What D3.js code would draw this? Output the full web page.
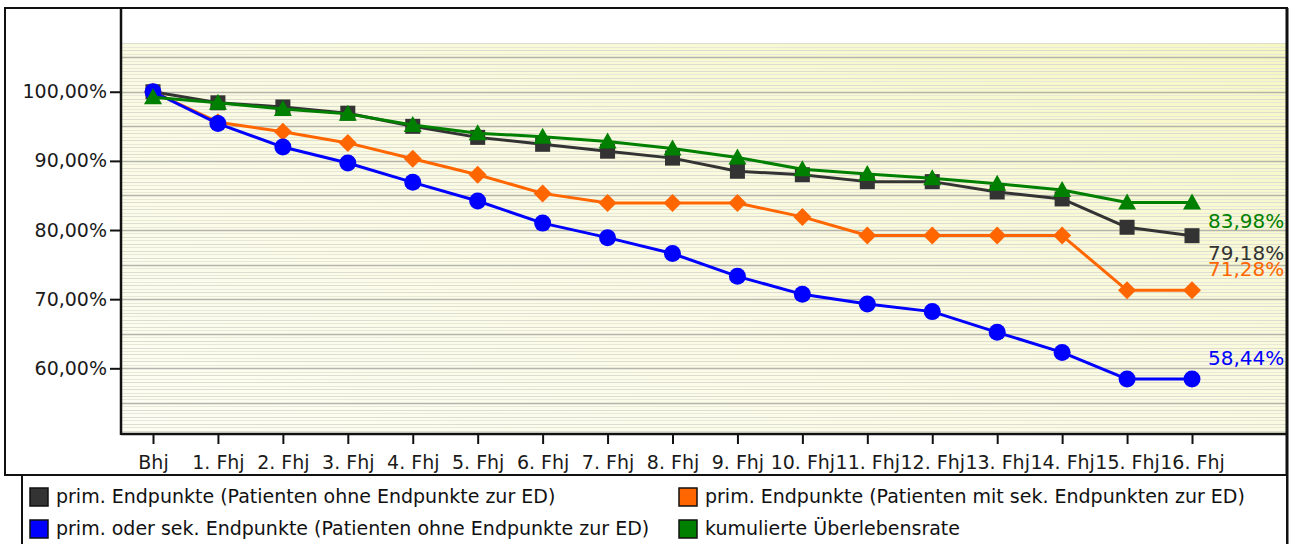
<!DOCTYPE html>
<html>
<head>
<meta charset="utf-8">
<script src="https://cdn.jsdelivr.net/npm/d3@7"></script>
<style>
  html, body { margin: 0; padding: 0; background: #fff; }
  svg { display: block; }
  .ax { font-family: "DejaVu Sans", sans-serif; font-size: 19px; fill: #1a1a1a; }
  .lg { font-family: "DejaVu Sans", sans-serif; font-size: 19px; fill: #111; }
  .end { font-family: "DejaVu Sans", sans-serif; font-size: 20px; }
</style>
</head>
<body>
<svg id="chart" width="1298" height="544"></svg>
<script>
// ---- data ----
const categories = ["Bhj","1. Fhj","2. Fhj","3. Fhj","4. Fhj","5. Fhj","6. Fhj","7. Fhj","8. Fhj",
  "9. Fhj","10. Fhj","11. Fhj","12. Fhj","13. Fhj","14. Fhj","15. Fhj","16. Fhj"];
const seriesNames = [
  "prim. Endpunkte (Patienten ohne Endpunkte zur ED)",
  "prim. Endpunkte (Patienten mit sek. Endpunkten zur ED)",
  "prim. oder sek. Endpunkte (Patienten ohne Endpunkte zur ED)",
  "kumulierte Überlebensrate"
];
const primOhne   = [100, 98.4, 97.8, 96.9, 95.0, 93.4, 92.4, 91.4, 90.4, 88.5, 88.0, 87.0, 87.0, 85.5, 84.5, 80.4, 79.18];
const primMitSek = [100, 95.6, 94.2, 92.6, 90.3, 88.0, 85.3, 83.9, 83.9, 83.9, 81.9, 79.2, 79.2, 79.2, 79.2, 71.28, 71.28];
const primOderSek= [100, 95.4, 92.0, 89.7, 86.9, 84.2, 81.0, 78.9, 76.6, 73.3, 70.7, 69.3, 68.2, 65.2, 62.3, 58.44, 58.44];
const kumuliert  = [99.2, 98.4, 97.5, 96.8, 95.2, 94.0, 93.5, 92.8, 91.8, 90.5, 88.8, 88.1, 87.5, 86.7, 85.8, 83.98, 83.98];
const yTicks = [60, 70, 80, 90, 100];

// ---- style ----
const colors  = ["#333333", "#ff6600", "#0000ff", "#008000"];
const markers = ["square", "diamond", "circle", "triangle"];
const labelDy = [19, -20, -20, 20];
const values  = [primOhne, primMitSek, primOderSek, kumuliert];

const locale = d3.formatLocale({decimal: ",", thousands: ".", grouping: [3], currency: ["", "€"]});
const pct = v => locale.format(".2f")(v) + "%";

const svg = d3.select("#chart");
const plot = {left: 121, right: 1286, top: 43, bottom: 434};

const x = d3.scalePoint().domain(categories).range([153, 1192]);
const y = d3.scaleLinear().domain([50.5, 107.05]).range([plot.bottom, plot.top]);

// gradient
const defs = svg.append("defs");
const grad = defs.append("linearGradient").attr("id", "bg")
  .attr("x1", "0%").attr("y1", "100%").attr("x2", "100%").attr("y2", "0%");
grad.append("stop").attr("offset", "0%").attr("stop-color", "#fdfdf4");
grad.append("stop").attr("offset", "55%").attr("stop-color", "#fafae0");
grad.append("stop").attr("offset", "100%").attr("stop-color", "#f7f7c2");

// outer frame
svg.append("rect").attr("x", 5).attr("y", 8).attr("width", 1282).attr("height", 467)
  .attr("fill", "#fff").attr("stroke", "#111").attr("stroke-width", 2);

// plot background
svg.append("rect").attr("x", plot.left).attr("y", plot.top)
  .attr("width", plot.right - plot.left).attr("height", plot.bottom - plot.top)
  .attr("fill", "url(#bg)");

// grid lines
const minor = d3.range(51, 107.01, 0.5);
svg.append("g").selectAll("line").data(minor).join("line")
  .attr("x1", plot.left).attr("x2", plot.right)
  .attr("y1", d => Math.round(y(d)) + 0.5).attr("y2", d => Math.round(y(d)) + 0.5)
  .attr("stroke", d => (d % 5 === 0) ? "#b4b4ac" : (d % 1 === 0 ? "#dcdcd0" : "#e8e8d8"))
  .attr("stroke-width", d => (d % 5 === 0) ? 1.5 : 1);

// axes
const yAxis = d3.axisLeft(y).tickValues(yTicks).tickFormat(pct).tickSize(11).tickPadding(3);
const gy = svg.append("g").attr("transform", `translate(${plot.left},0)`).call(yAxis);
gy.select(".domain").remove();
gy.selectAll(".tick line").attr("stroke", "#111").attr("stroke-width", 2);
gy.selectAll(".tick text").attr("class", "ax").attr("font-family", null).attr("font-size", null);

const xAxis = d3.axisBottom(x).tickSize(10).tickPadding(12);
const gx = svg.append("g").attr("transform", `translate(0,${plot.bottom})`).call(xAxis);
gx.select(".domain").remove();
gx.selectAll(".tick line").attr("stroke", "#111").attr("stroke-width", 2);
gx.selectAll(".tick text").attr("class", "ax").attr("font-family", null).attr("font-size", null);

// axis lines
svg.append("line").attr("x1", plot.left).attr("x2", plot.left).attr("y1", 8).attr("y2", plot.bottom + 1)
  .attr("stroke", "#111").attr("stroke-width", 2.5);
svg.append("line").attr("x1", plot.left).attr("x2", plot.right + 1).attr("y1", plot.bottom).attr("y2", plot.bottom)
  .attr("stroke", "#111").attr("stroke-width", 2.5);
svg.append("line").attr("x1", 1287).attr("x2", 1287).attr("y1", 8).attr("y2", 544)
  .attr("stroke", "#111").attr("stroke-width", 3);

// series
const line = d3.line().x((d, i) => x(categories[i])).y(d => y(d));
function drawMarker(g, type, cx, cy, color) {
  if (type === "circle") g.append("circle").attr("cx", cx).attr("cy", cy).attr("r", 8.5).attr("fill", color);
  else if (type === "square") g.append("rect").attr("x", cx - 7.5).attr("y", cy - 7.5).attr("width", 15).attr("height", 15).attr("fill", color);
  else if (type === "diamond") g.append("path").attr("d", `M${cx},${cy-9}L${cx+9},${cy}L${cx},${cy+9}L${cx-9},${cy}Z`).attr("fill", color);
  else if (type === "triangle") g.append("path").attr("d", `M${cx},${cy-9}L${cx+9},${cy+7}L${cx-9},${cy+7}Z`).attr("fill", color);
}
values.forEach((vals, s) => {
  const g = svg.append("g");
  g.append("path").datum(vals).attr("d", line).attr("fill", "none")
    .attr("stroke", colors[s]).attr("stroke-width", 3).attr("stroke-linejoin", "round");
  vals.forEach((v, i) => drawMarker(g, markers[s], x(categories[i]), y(v), colors[s]));
});
// end labels
values.forEach((vals, s) => {
  const last = vals.length - 1;
  svg.append("text").attr("class", "end")
    .attr("x", x(categories[last]) + 16).attr("y", y(vals[last]) + labelDy[s])
    .attr("dominant-baseline", "middle").attr("fill", colors[s]).text(pct(vals[last]));
});

// legend
svg.append("rect").attr("x", 22).attr("y", 475).attr("width", 1265).attr("height", 80)
  .attr("fill", "#fff").attr("stroke", "#111").attr("stroke-width", 2);
const legendPos = [[30, 497], [679, 497], [30, 529], [679, 529]];
seriesNames.forEach((name, s) => {
  const [lx, ly] = legendPos[s];
  svg.append("rect").attr("x", lx).attr("y", ly - 9).attr("width", 18).attr("height", 18)
    .attr("fill", colors[s]).attr("stroke", "#111").attr("stroke-width", 1.5);
  svg.append("text").attr("class", "lg").attr("x", lx + 26).attr("y", ly)
    .attr("dominant-baseline", "middle").text(name);
});
</script>
</body>
</html>
